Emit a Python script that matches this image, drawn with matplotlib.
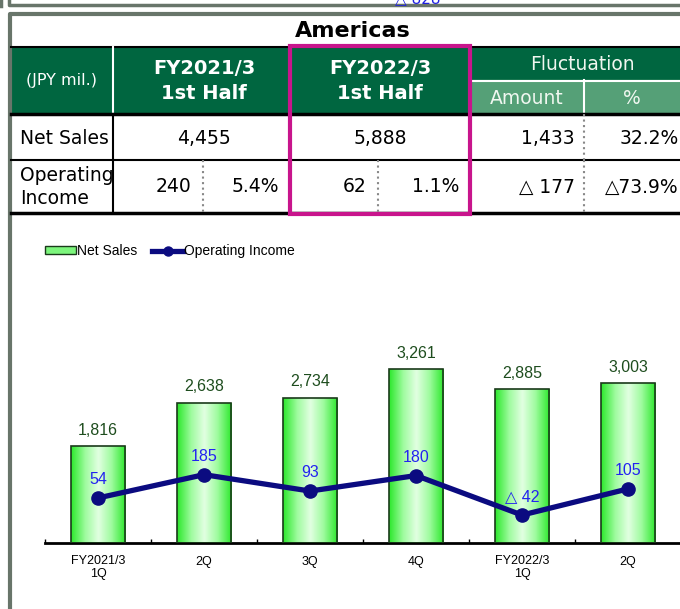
import numpy as np
import matplotlib.pyplot as plt
from matplotlib.colors import LinearSegmentedColormap
from matplotlib.patches import Rectangle, Patch
from matplotlib.lines import Line2D

# chart data
quarters = ['FY2021/3\n1Q', '2Q', '3Q', '4Q', 'FY2022/3\n1Q', '2Q']
net_sales = [1816, 2638, 2734, 3261, 2885, 3003]
op_income = [54, 185, 93, 180, -42, 105]

# table data
region = 'Americas'
unit_label = '(JPY mil.)'
period_heads = ['FY2021/3\n1st Half', 'FY2022/3\n1st Half']
fluct_heads = ['Fluctuation', 'Amount', '%']
row_names = ['Net Sales', 'Operating\nIncome']
sales_row = ['4,455', '5,888', '1,433', '32.2%']
income_row = ['240', '5.4%', '62', '1.1%', '△ 177', '△73.9%']

DARK = '#006640'
LIGHT = '#55a077'
MAGENTA = '#c8148c'
FRAME = '#68756a'
NAVY = '#0b0b80'

W, H = 680, 609
fig = plt.figure(figsize=(W / 100, H / 100), dpi=100)

# ---- page / table layer in pixel coordinates
ax0 = fig.add_axes([0, 0, 1, 1])
ax0.set_xlim(0, W)
ax0.set_ylim(H, 0)
ax0.axis('off')

# frames (upper box is only partly visible)
ax0.plot([9, 9, W], [0, 4.5, 4.5], color=FRAME, lw=2.5)
ax0.plot([1, 1], [0, 6], color=FRAME, lw=2.5)
ax0.plot([9.5, 9.5, W], [H, 14, 14], color=FRAME, lw=3)
ax0.text(418, -1, '△ 828', color='#2020e0', fontsize=11, ha='center', va='center')

ax0.text(353, 31, region, fontsize=16, fontweight='bold', ha='center', va='center')

# header blocks
ax0.add_patch(Rectangle((11, 47), W - 11, 67, color=DARK, zorder=1))
ax0.add_patch(Rectangle((470, 80), W - 470, 34, color=LIGHT, zorder=1))
ax0.plot([11, W], [47, 47], color='black', lw=1.5, zorder=2)
ax0.plot([113, 113], [47, 114], color='white', lw=1.5, zorder=2)
ax0.plot([470, W], [80.5, 80.5], color='white', lw=1.5, zorder=2)
ax0.plot([584, 584], [80, 114], color='white', lw=1.5, zorder=2)

ax0.text(62, 80, unit_label, color='white', fontsize=11.5, ha='center', va='center')
for cx, txt in zip([204, 380], period_heads):
    ax0.text(cx, 81, txt, color='white', fontsize=14, fontweight='bold',
             ha='center', va='center', linespacing=1.45)
ax0.text(582, 65, fluct_heads[0], color='#f0f7f0', fontsize=13.5, ha='center', va='center')
ax0.text(527, 98, fluct_heads[1], color='#f0f7f0', fontsize=13.5, ha='center', va='center')
ax0.text(632, 98, fluct_heads[2], color='#f0f7f0', fontsize=13.5, ha='center', va='center')

# grid lines of the body
for yy, lw in [(114, 2.5), (160, 1.5), (213, 2.5)]:
    ax0.plot([11, W], [yy, yy], color='black', lw=lw, zorder=2)
ax0.plot([113, 113], [114, 213], color='black', lw=1.5, zorder=2)
ax0.plot([584, 584], [114, 160], color='#888888', lw=1.5, ls=':', zorder=2)
for xx in [203, 378, 584]:
    ax0.plot([xx, xx], [160, 213], color='#888888', lw=1.5, ls=':', zorder=2)

ax0.text(20, 138, row_names[0], fontsize=13.5, ha='left', va='center')
ax0.text(20, 187, row_names[1], fontsize=13.5, ha='left', va='center', linespacing=1.25)

ax0.text(204, 138, sales_row[0], fontsize=13.5, ha='center', va='center')
ax0.text(380, 138, sales_row[1], fontsize=13.5, ha='center', va='center')
ax0.text(575, 138, sales_row[2], fontsize=13.5, ha='right', va='center')
ax0.text(679, 138, sales_row[3], fontsize=13.5, ha='right', va='center')

for xr, txt in zip([191, 279, 367, 459, 575, 679], income_row):
    ax0.text(xr, 187, txt, fontsize=13.5, ha='right', va='center')

# highlight box for current period
ax0.add_patch(Rectangle((290, 46), 180, 168, fill=False, edgecolor=MAGENTA, lw=3, zorder=3))

# ---- chart
plt.rcParams['font.family'] = ['Liberation Sans', 'DejaVu Sans']
ax = fig.add_axes([45 / W, 66 / H, 636 / W, 273 / H])
ax2 = ax.twinx()
x = np.arange(len(quarters))

green = LinearSegmentedColormap.from_list('g', ['#2ee82e', '#9cfb9c', '#e2ffe2', '#9cfb9c', '#2ee82e'])
bars = ax.bar(x, net_sales, width=0.51, facecolor='none', edgecolor='#1a3a1a', lw=1.2, zorder=3)
grad = np.linspace(0, 1, 64).reshape(1, -1)
for b in bars:
    im = ax.imshow(grad, extent=[b.get_x(), b.get_x() + b.get_width(), 0, b.get_height()],
                   cmap=green, aspect='auto', zorder=2)
    im.set_clip_path(b)
for xi, v in zip(x, net_sales):
    ax.annotate(f'{v:,}', (xi, v), xytext=(0, 11.5), textcoords='offset points',
                ha='center', va='center', fontsize=11.5, color='#1e4d1e')

ax.set_xlim(-0.5, 5.5)
ax.set_ylim(0, 5130)
ax2.set_ylim(-199, 1335)

ax2.plot(x, op_income, color=NAVY, lw=3.8, marker='o', ms=9.5, zorder=4)
for xi, v in zip(x, op_income):
    lab = f'△ {abs(v)}' if v < 0 else f'{v}'
    ax2.annotate(lab, (xi, v), xytext=(0, 13), textcoords='offset points',
                 ha='center', va='center', fontsize=11.5, color='#2323f0')

for a in (ax, ax2):
    for s in ['top', 'left', 'right']:
        a.spines[s].set_visible(False)
    a.set_yticks([])
ax2.spines['bottom'].set_visible(False)
ax.spines['bottom'].set_linewidth(2)
ax.set_xticks(x)
ax.set_xticklabels(quarters, fontsize=9, linespacing=1.0)
ax.tick_params(axis='x', which='major', length=0, pad=9)
ax.set_xticks(np.arange(-0.5, 6, 1), minor=True)
ax.tick_params(axis='x', which='minor', direction='in', length=3, width=1)

handles = [Patch(facecolor='#7cf57c', edgecolor='#1a3a1a', lw=1),
           Line2D([], [], color=NAVY, lw=3.8, marker='o', ms=6.5)]
fig.legend(handles, ['Net Sales', 'Operating Income'], loc='center left',
           bbox_to_anchor=(45 / W, 1 - 251 / H), ncol=2, frameon=False, fontsize=10,
           handlelength=2.2, handleheight=0.5, handletextpad=0.1, columnspacing=1.1,
           borderpad=0, borderaxespad=0)

fig.savefig('out.png', dpi=100, facecolor='white')
